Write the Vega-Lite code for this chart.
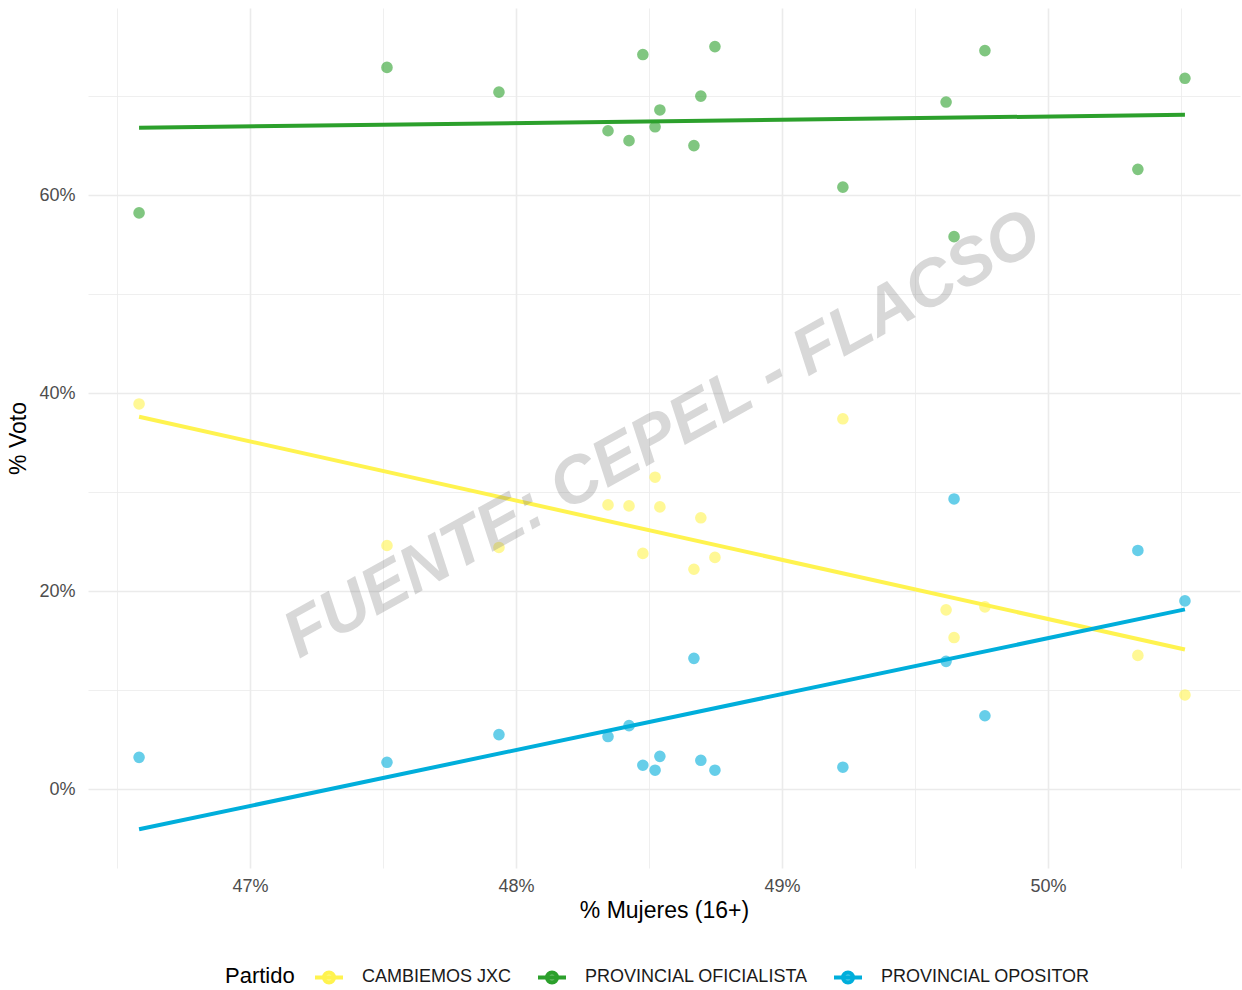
{
  "$schema": "https://vega.github.io/schema/vega-lite/v6.json",
  "autosize": {"type": "none"},
  "padding": {"left": 88, "top": 8, "right": 2, "bottom": 122},
  "width": 1152,
  "height": 860,
  "background": "white",
  "config": {
    "font": "Liberation Sans",
    "view": {"stroke": null},
    "axis": {
      "domain": false,
      "ticks": false,
      "labelColor": "#4d4d4d",
      "labelFontSize": 18,
      "labelFont": "Liberation Sans",
      "titleFont": "Liberation Sans",
      "titleFontSize": 23,
      "titleFontWeight": "normal",
      "titleColor": "#000000",
      "gridColor": "#ebebeb"
    }
  },
  "data": {
    "values": [
      {"mujeres": 46.583, "partido": "PROVINCIAL OFICIALISTA", "voto": 58.2},
      {"mujeres": 46.583, "partido": "CAMBIEMOS JXC", "voto": 38.9},
      {"mujeres": 46.583, "partido": "PROVINCIAL OPOSITOR", "voto": 3.2},
      {"mujeres": 47.515, "partido": "PROVINCIAL OFICIALISTA", "voto": 72.9},
      {"mujeres": 47.515, "partido": "CAMBIEMOS JXC", "voto": 24.6},
      {"mujeres": 47.515, "partido": "PROVINCIAL OPOSITOR", "voto": 2.7},
      {"mujeres": 47.936, "partido": "PROVINCIAL OFICIALISTA", "voto": 70.4},
      {"mujeres": 47.936, "partido": "CAMBIEMOS JXC", "voto": 24.4},
      {"mujeres": 47.936, "partido": "PROVINCIAL OPOSITOR", "voto": 5.5},
      {"mujeres": 48.346, "partido": "PROVINCIAL OFICIALISTA", "voto": 66.5},
      {"mujeres": 48.346, "partido": "CAMBIEMOS JXC", "voto": 28.7},
      {"mujeres": 48.346, "partido": "PROVINCIAL OPOSITOR", "voto": 5.3},
      {"mujeres": 48.425, "partido": "PROVINCIAL OFICIALISTA", "voto": 65.5},
      {"mujeres": 48.425, "partido": "CAMBIEMOS JXC", "voto": 28.6},
      {"mujeres": 48.425, "partido": "PROVINCIAL OPOSITOR", "voto": 6.4},
      {"mujeres": 48.477, "partido": "PROVINCIAL OFICIALISTA", "voto": 74.2},
      {"mujeres": 48.477, "partido": "CAMBIEMOS JXC", "voto": 23.8},
      {"mujeres": 48.477, "partido": "PROVINCIAL OPOSITOR", "voto": 2.4},
      {"mujeres": 48.523, "partido": "PROVINCIAL OFICIALISTA", "voto": 66.9},
      {"mujeres": 48.523, "partido": "CAMBIEMOS JXC", "voto": 31.5},
      {"mujeres": 48.523, "partido": "PROVINCIAL OPOSITOR", "voto": 1.9},
      {"mujeres": 48.541, "partido": "PROVINCIAL OFICIALISTA", "voto": 68.6},
      {"mujeres": 48.541, "partido": "CAMBIEMOS JXC", "voto": 28.5},
      {"mujeres": 48.541, "partido": "PROVINCIAL OPOSITOR", "voto": 3.3},
      {"mujeres": 48.669, "partido": "PROVINCIAL OFICIALISTA", "voto": 65.0},
      {"mujeres": 48.669, "partido": "CAMBIEMOS JXC", "voto": 22.2},
      {"mujeres": 48.669, "partido": "PROVINCIAL OPOSITOR", "voto": 13.2},
      {"mujeres": 48.695, "partido": "PROVINCIAL OFICIALISTA", "voto": 70.0},
      {"mujeres": 48.695, "partido": "CAMBIEMOS JXC", "voto": 27.4},
      {"mujeres": 48.695, "partido": "PROVINCIAL OPOSITOR", "voto": 2.9},
      {"mujeres": 48.748, "partido": "PROVINCIAL OFICIALISTA", "voto": 75.0},
      {"mujeres": 48.748, "partido": "CAMBIEMOS JXC", "voto": 23.4},
      {"mujeres": 48.748, "partido": "PROVINCIAL OPOSITOR", "voto": 1.9},
      {"mujeres": 49.229, "partido": "PROVINCIAL OFICIALISTA", "voto": 60.8},
      {"mujeres": 49.229, "partido": "CAMBIEMOS JXC", "voto": 37.4},
      {"mujeres": 49.229, "partido": "PROVINCIAL OPOSITOR", "voto": 2.2},
      {"mujeres": 49.617, "partido": "PROVINCIAL OFICIALISTA", "voto": 69.4},
      {"mujeres": 49.617, "partido": "CAMBIEMOS JXC", "voto": 18.1},
      {"mujeres": 49.617, "partido": "PROVINCIAL OPOSITOR", "voto": 12.9},
      {"mujeres": 49.647, "partido": "PROVINCIAL OFICIALISTA", "voto": 55.8},
      {"mujeres": 49.647, "partido": "CAMBIEMOS JXC", "voto": 15.3},
      {"mujeres": 49.647, "partido": "PROVINCIAL OPOSITOR", "voto": 29.3},
      {"mujeres": 49.763, "partido": "PROVINCIAL OFICIALISTA", "voto": 74.6},
      {"mujeres": 49.763, "partido": "CAMBIEMOS JXC", "voto": 18.4},
      {"mujeres": 49.763, "partido": "PROVINCIAL OPOSITOR", "voto": 7.4},
      {"mujeres": 50.338, "partido": "PROVINCIAL OFICIALISTA", "voto": 62.6},
      {"mujeres": 50.338, "partido": "CAMBIEMOS JXC", "voto": 13.5},
      {"mujeres": 50.338, "partido": "PROVINCIAL OPOSITOR", "voto": 24.1},
      {"mujeres": 50.515, "partido": "PROVINCIAL OFICIALISTA", "voto": 71.8},
      {"mujeres": 50.515, "partido": "CAMBIEMOS JXC", "voto": 9.5},
      {"mujeres": 50.515, "partido": "PROVINCIAL OPOSITOR", "voto": 19.0}
    ]
  },
  "encoding": {
    "x": {
      "field": "mujeres",
      "type": "quantitative",
      "scale": {"domain": [46.391, 50.722], "nice": false, "zero": false},
      "axis": {
        "title": "% Mujeres (16+)",
        "values": [46.5, 47, 47.5, 48, 48.5, 49, 49.5, 50, 50.5],
        "labelExpr": "datum.value % 1 === 0 ? datum.value + '%' : ''",
        "labelPadding": 9,
        "titlePadding": 4,
        "gridWidth": {"condition": {"test": "datum.value % 1 !== 0", "value": 0.8}, "value": 1.6}
      }
    },
    "y": {
      "field": "voto",
      "type": "quantitative",
      "scale": {"domain": [-7.98, 78.9], "nice": false, "zero": false},
      "axis": {
        "title": "% Voto",
        "values": [0, 10, 20, 30, 40, 50, 60, 70],
        "labelExpr": "datum.value % 20 === 0 ? datum.value + '%' : ''",
        "labelPadding": 13,
        "titlePadding": 8,
        "gridWidth": {"condition": {"test": "datum.value % 20 !== 0", "value": 0.8}, "value": 1.6}
      }
    }
  },
  "layer": [
    {
      "mark": {"type": "point", "filled": true, "opacity": 0.6, "size": 135},
      "encoding": {
        "color": {
          "field": "partido",
          "type": "nominal",
          "scale": {
            "domain": ["CAMBIEMOS JXC", "PROVINCIAL OFICIALISTA", "PROVINCIAL OPOSITOR"],
            "range": ["#FFF34F", "#2CA02C", "#00AEDB"]
          },
          "legend": {
            "title": "Partido",
            "orient": "none",
            "legendX": 137,
            "legendY": 953,
            "direction": "horizontal",
            "titleOrient": "left",
            "titleFontSize": 22,
            "titleFontWeight": "normal",
            "titleColor": "#000000",
            "titlePadding": 18,
            "labelFontSize": 18,
            "labelColor": "#1a1a1a",
            "labelLimit": 0,
            "labelOffset": 17,
            "columnPadding": 18,
            "symbolType": "M-1,0L1,0M-0.36,0A0.36,0.36 0 1,0 0.36,0A0.36,0.36 0 1,0 -0.36,0Z",
            "symbolSize": 784,
            "symbolStrokeWidth": 3.5,
            "symbolOpacity": 1,
            "encode": {
              "symbols": {
                "update": {
                  "stroke": {"scale": "color", "field": "value"},
                  "fill": {"scale": "color", "field": "value"},
                  "fillOpacity": {"value": 0.6},
                  "strokeWidth": {"value": 4}
                }
              }
            }
          }
        }
      }
    },
    {
      "transform": [{"regression": "voto", "on": "mujeres", "groupby": ["partido"]}],
      "mark": {"type": "line", "strokeWidth": 4},
      "encoding": {
        "color": {"field": "partido", "type": "nominal"}
      }
    },
    {
      "data": {"values": [{"mujeres": 48.55, "voto": 35.8, "label": "FUENTE: CEPEL - FLACSO"}]},
      "mark": {
        "type": "text",
        "angle": -29,
        "fontSize": 66,
        "fontWeight": "bold",
        "fontStyle": "italic",
        "font": "Liberation Sans",
        "fill": "#7f7f7f",
        "opacity": 0.3,
        "align": "center",
        "baseline": "middle"
      },
      "encoding": {
        "text": {"field": "label"}
      }
    }
  ]
}
